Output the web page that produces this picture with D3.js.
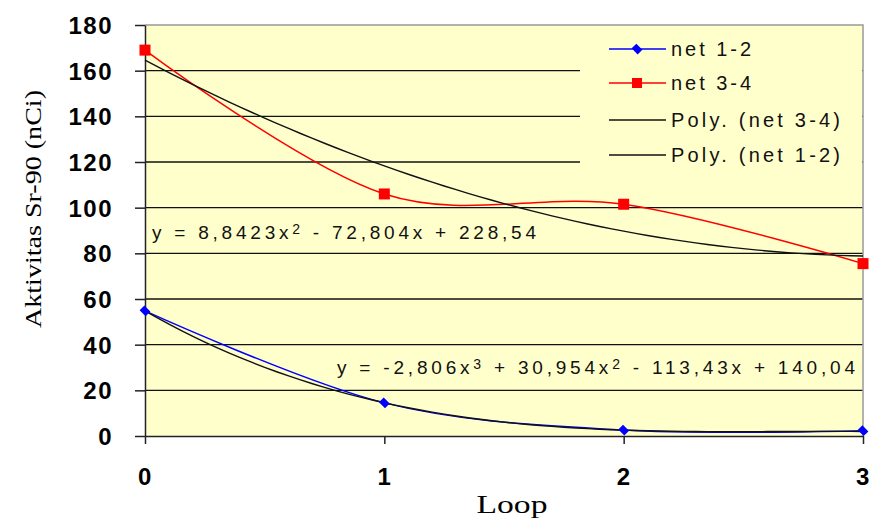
<!DOCTYPE html>
<html>
<head>
<meta charset="utf-8">
<script src="https://cdn.jsdelivr.net/npm/d3@7"></script>
<style>
  body { margin: 0; background: #fff; }
  svg { display: block; }
</style>
</head>
<body>
<svg id="chart" width="874" height="519"></svg>
<script>
// Loop index on the x axis.
const loops = [0, 1, 2, 3];
// Measured Sr-90 activity per loop.
const net12 = [54.8, 14.5, 2.6, 2.3];
const net34 = [169, 106, 101.5, 75.5];
// Trendline coefficients as printed (constant first), Excel uses x = loop + 1.
const poly34 = [228.54, -72.804, 8.8423];
const poly12 = [140.04, -113.43, 30.954, -2.806];
const yTicks = [0, 20, 40, 60, 80, 100, 120, 140, 160, 180];
const xTicks = [0, 1, 2, 3];
const legendNames = ["net 1-2", "net 3-4", "Poly. (net 3-4)", "Poly. (net 1-2)"];

const svg = d3.select("#chart");
const plotFill = "#FFFFCC";

// Scales.
let x = d3.scaleLinear().domain([0, 3]).range([145, 863]);
let y = d3.scaleLinear().domain([0, 180]).range([436, 25]);

// Plot area background.
svg.append("rect")
  .attr("x", x(0)).attr("y", y(180))
  .attr("width", x(3) - x(0)).attr("height", y(0) - y(180))
  .attr("fill", plotFill);

// Gridlines.
svg.append("g")
  .selectAll("line")
  .data(yTicks.filter(d => d > 0 && d < 180))
  .enter().append("line")
  .attr("x1", x(0)).attr("x2", x(3))
  .attr("y1", d => y(d)).attr("y2", d => y(d))
  .attr("stroke", "#111").attr("stroke-width", 1.4);

// Plot border, top and right in grey.
svg.append("path")
  .attr("d", `M${x(0)},${y(180)}H${x(3)}V${y(0)}`)
  .attr("fill", "none").attr("stroke", "#999").attr("stroke-width", 1.5);

// Axes.
let yAxis = svg.append("g")
  .attr("transform", `translate(${x(0)},0)`)
  .call(d3.axisLeft(y).tickValues(yTicks).tickSize(10).tickSizeOuter(0).tickPadding(22));
let xAxis = svg.append("g")
  .attr("transform", `translate(0,${y(0)})`)
  .call(d3.axisBottom(x).tickValues(xTicks).tickFormat(d3.format("d"))
    .tickSize(8).tickSizeOuter(0).tickPadding(22));

[yAxis, xAxis].forEach(function (a) {
  a.select(".domain").attr("stroke", "#222").attr("stroke-width", 1.5);
  a.selectAll(".tick line").attr("stroke", "#222").attr("stroke-width", 1.5);
  a.selectAll(".tick text")
    .attr("fill", "#000")
    .style("font-family", "Liberation Sans, Arial, sans-serif")
    .style("font-weight", "bold")
    .style("font-size", "24px")
    .style("letter-spacing", "1.5px");
});
yAxis.selectAll(".tick text").attr("dy", "0.36em");
xAxis.selectAll(".tick text").attr("dy", "0.78em");

// Axis titles.
svg.append("text")
  .attr("x", 512).attr("y", 513)
  .attr("text-anchor", "middle")
  .attr("textLength", 71).attr("lengthAdjust", "spacingAndGlyphs")
  .style("font-family", "Liberation Serif, Times New Roman, serif")
  .style("font-size", "25px")
  .text("Loop");

svg.append("text")
  .attr("transform", "translate(41,209) rotate(-90)")
  .attr("text-anchor", "middle")
  .attr("textLength", 238).attr("lengthAdjust", "spacingAndGlyphs")
  .style("font-family", "Liberation Serif, Times New Roman, serif")
  .style("font-size", "24px")
  .text("Aktivitas Sr-90 (nCi)");

// Smoothed data series.
let smooth = d3.line()
  .x((d, i) => x(loops[i]))
  .y(d => y(d))
  .curve(d3.curveCardinal.tension(0));

svg.append("path").datum(net12)
  .attr("d", smooth).attr("fill", "none")
  .attr("stroke", "#0000FF").attr("stroke-width", 1.5);
svg.append("path").datum(net34)
  .attr("d", smooth).attr("fill", "none")
  .attr("stroke", "#FF0000").attr("stroke-width", 1.5);

// Trendlines from the printed coefficients.
function polyValue(c, lp) {
  let X = lp + 1;
  return c.reduce((acc, k, i) => acc + k * Math.pow(X, i), 0);
}
let trendX = d3.range(0, 3.001, 0.05);
let trend = d3.line().x(d => x(d[0])).y(d => y(d[1]));
[poly34, poly12].forEach(function (c) {
  svg.append("path")
    .datum(trendX.map(t => [t, polyValue(c, t)]))
    .attr("d", trend).attr("fill", "none")
    .attr("stroke", "#111").attr("stroke-width", 1.4);
});

// Markers.
let diamond = d3.symbol().type(d3.symbolSquare).size(55);
svg.append("g").selectAll("path")
  .data(net12).enter().append("path")
  .attr("d", diamond)
  .attr("transform", (d, i) => `translate(${x(loops[i])},${y(d)}) rotate(45) scale(1.15,0.9)`)
  .attr("fill", "#0000FF");
svg.append("g").selectAll("rect")
  .data(net34).enter().append("rect")
  .attr("x", (d, i) => x(loops[i]) - 5.5)
  .attr("y", d => y(d) - 5.5)
  .attr("width", 11).attr("height", 11)
  .attr("fill", "#FF0000");

// Equations.
function equation(px, py, len, parts) {
  let t = svg.append("text")
    .attr("x", px).attr("y", py)
    .attr("textLength", len).attr("lengthAdjust", "spacing")
    .style("font-family", "Liberation Sans, Arial, sans-serif")
    .style("font-size", "19px")
    .attr("fill", "#111");
  parts.forEach(function (p) {
    let s = t.append("tspan").text(p[0]);
    if (p[1]) s.attr("baseline-shift", "35%").style("font-size", "14px");
  });
}
equation(152, 239, 384, [["y = 8,8423x"], ["2", true], [" - 72,804x + 228,54"]]);
equation(337, 374, 518, [["y = -2,806x"], ["3", true], [" + 30,954x"], ["2", true], [" - 113,43x + 140,04"]]);

// Legend.
let legend = svg.append("g");
legend.append("rect")
  .attr("x", 580).attr("y", 26).attr("width", 282).attr("height", 146)
  .attr("fill", plotFill);
let legendY = [49, 83, 120, 155];
let legendColor = ["#0000FF", "#FF0000", "#111", "#111"];
let legendLen = [80, 80, 169, 169];
legendNames.forEach(function (name, i) {
  legend.append("line")
    .attr("x1", 609).attr("x2", 666)
    .attr("y1", legendY[i]).attr("y2", legendY[i])
    .attr("stroke", legendColor[i]).attr("stroke-width", 1.5);
  legend.append("text")
    .attr("x", 671).attr("y", legendY[i] + 7)
    .attr("textLength", legendLen[i]).attr("lengthAdjust", "spacing")
    .style("font-family", "Liberation Sans, Arial, sans-serif")
    .style("font-size", "20px")
    .attr("fill", "#111")
    .text(name);
});
legend.append("path")
  .attr("d", diamond)
  .attr("transform", `translate(637,${legendY[0]}) rotate(45) scale(1.15,0.9)`)
  .attr("fill", "#0000FF");
legend.append("rect")
  .attr("x", 632).attr("y", legendY[1] - 5).attr("width", 10).attr("height", 10)
  .attr("fill", "#FF0000");
</script>
</body>
</html>
